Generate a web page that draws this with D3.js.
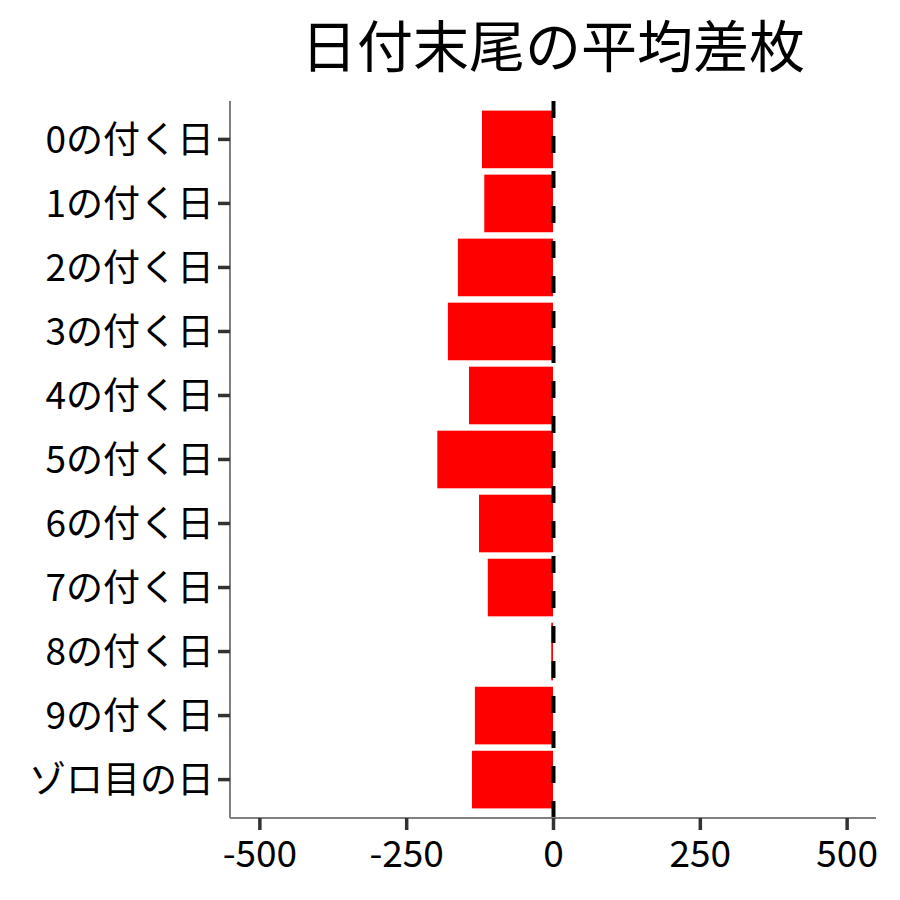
<!DOCTYPE html>
<html>
<head>
  <script src="https://d3js.org/d3.v7.min.js"></script>
  <meta charset="utf-8">
  <title>日付末尾の平均差枚</title>
  <style>
    body {margin: 0; background: #fff;}
    svg text {font-family: "Noto Sans CJK JP", "Noto Sans", sans-serif; fill: #000;}
  </style>
</head>
<body>
  <div id="chart"></div>
  <script>
    /* Data */
    const categories = ["0の付く日", "1の付く日", "2の付く日", "3の付く日", "4の付く日",
                        "5の付く日", "6の付く日", "7の付く日", "8の付く日", "9の付く日", "ゾロ目の日"];
    const diffValues = [-121, -117, -162, -179, -143, -197, -126, -111, -3, -133, -138];
    const xTicks = [-500, -250, 0, 250, 500];
    const xDomain = [-550, 550];
    const refLine = 0;

    const data = categories.map((c, i) => ({label: c, value: diffValues[i]}));

    /* Canvas and panel */
    const width = 900, height = 900;
    const panel = {left: 230, right: 876, top: 101, bottom: 818};

    const svg = d3.select("#chart")
                  .append("svg")
                  .attr("width", width)
                  .attr("height", height);

    /* Scales */
    const x = d3.scaleLinear().domain(xDomain).range([panel.left, panel.right]);
    const y = d3.scaleBand().domain(categories).range([panel.top, panel.bottom])
                .paddingInner(0.1).paddingOuter(0.15);

    /* Bars */
    svg.append("g")
       .selectAll("rect")
       .data(data)
       .enter()
       .append("rect")
       .attr("x", d => x(Math.min(0, d.value)))
       .attr("y", d => y(d.label))
       .attr("width", d => Math.abs(x(d.value) - x(0)))
       .attr("height", y.bandwidth())
       .attr("fill", "#ff0000");

    /* Dashed reference line, drawn bottom to top */
    svg.append("line")
       .attr("x1", x(refLine) + 0.5).attr("x2", x(refLine) + 0.5)
       .attr("y1", panel.bottom).attr("y2", panel.top)
       .attr("stroke", "#000")
       .attr("stroke-width", 4)
       .attr("stroke-dasharray", "17,18");

    /* Axes */
    const xAxis = svg.append("g")
       .attr("transform", `translate(0,${panel.bottom})`)
       .call(d3.axisBottom(x).tickValues(xTicks).tickSize(12).tickPadding(10).tickFormat(d => String(d)));
    xAxis.select(".domain").attr("stroke", "#7f7f7f").attr("stroke-width", 2)
         .attr("d", `M${panel.left},0H${panel.right}`);
    xAxis.selectAll(".tick line").attr("stroke", "#333").attr("stroke-width", 3.5);
    xAxis.selectAll(".tick text")
         .attr("y", 49).attr("dy", null)
         .style("font-size", "37px");

    const yAxis = svg.append("g")
       .attr("transform", `translate(${panel.left},0)`)
       .call(d3.axisLeft(y).tickSize(12).tickPadding(10));
    yAxis.select(".domain").attr("stroke", "#7f7f7f").attr("stroke-width", 2)
         .attr("d", `M0,${panel.top}V${panel.bottom}`);
    yAxis.selectAll(".tick line").attr("stroke", "#333").attr("stroke-width", 3.5);
    yAxis.selectAll(".tick text")
         .attr("x", -16).attr("dy", "0.36em")
         .style("font-size", "37px");

    /* Title */
    svg.append("text")
       .attr("x", (panel.left + panel.right) / 2)
       .attr("y", 67)
       .attr("text-anchor", "middle")
       .style("font-size", "56px")
       .text("日付末尾の平均差枚");
  </script>
</body>
</html>
